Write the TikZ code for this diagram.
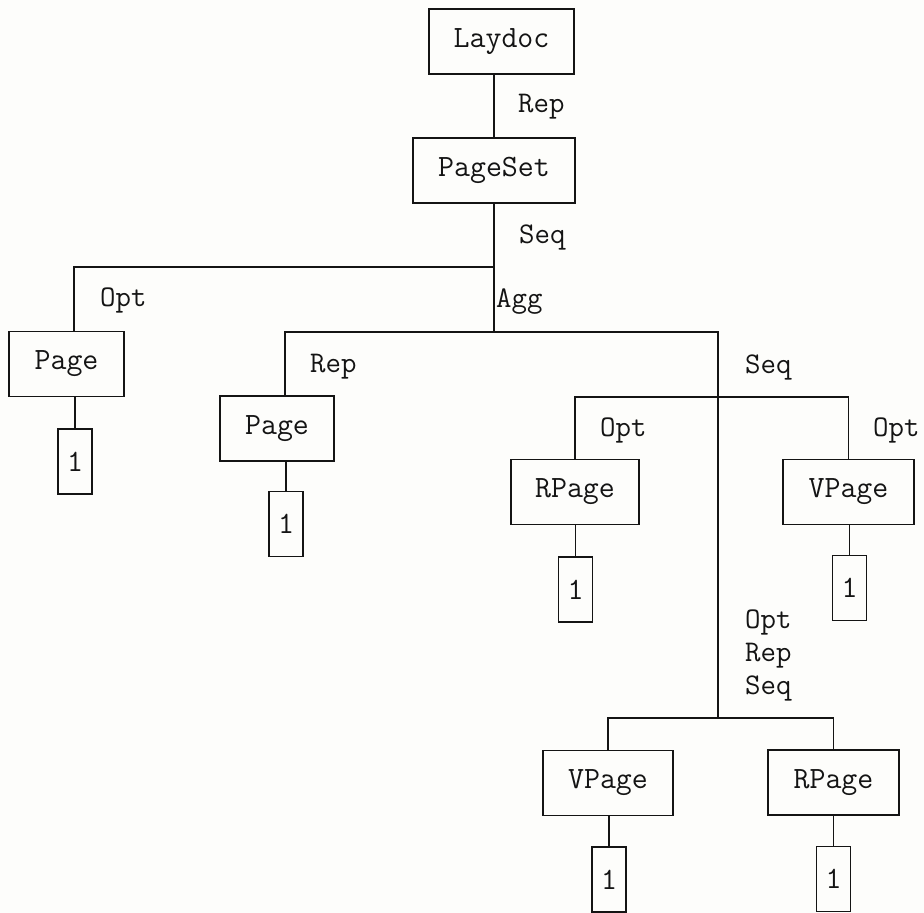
\documentclass[tikz,border=0pt]{standalone}
\usepackage{xcolor}
\newcommand{\elemheight}{65pt}
\newcommand{\leafwidth}{34pt}
\definecolor{paperbg}{HTML}{FDFDFB}
\definecolor{inkcolor}{HTML}{141414}
\tikzset{
  element/.style={draw=inkcolor, line width=1.8pt, minimum height=\elemheight,
    inner sep=0pt, text=inkcolor, font=\ttfamily\fontsize{31}{33}\selectfont},
  leafbox/.style={element, minimum width=\leafwidth},
  reltag/.style={anchor=west, inner sep=0pt, align=left, text=inkcolor,
    font=\ttfamily\fontsize{30}{33}\selectfont},
  link/.style={draw=inkcolor, line width=1.8pt},
}

\begin{document}
\begin{tikzpicture}[x=1pt, y=-1pt]
  % Page background
  \fill[paperbg] (0,0) rectangle (924,913);
  \useasboundingbox (0,0) rectangle (924,913);

  % Root and page set
  \node[element, minimum width=145pt] (laydoc) at (501.5,41.5) {Laydoc};
  \node[element, minimum width=162pt] (pageset) at (494,170.5) {PageSet};

  % Pages on the left
  \node[element, minimum width=115pt] (pageA) at (66.5,364) {Page};
  \node[leafbox] (leafA) at (75,461.5) {1};
  \node[element, minimum width=114pt] (pageB) at (277,428.5) {Page};
  \node[leafbox] (leafB) at (286,524) {1};

  % Optional pages under the Seq branch
  \node[element, minimum width=128pt] (rpageA) at (575,492) {RPage};
  \node[leafbox] (leafC) at (575.5,589.5) {1};
  \node[element, minimum width=131pt] (vpageA) at (848.5,492) {VPage};
  \node[leafbox] (leafD) at (849.5,588) {1};

  % Repeated pairs at the bottom
  \node[element, minimum width=130pt] (vpageB) at (608,783) {VPage};
  \node[leafbox] (leafE) at (609,879.5) {1};
  \node[element, minimum width=131pt] (rpageB) at (833.5,782.5) {RPage};
  \node[leafbox] (leafF) at (833.5,879) {1};

  % Branch points
  \coordinate (seqjoin) at (494,267);
  \coordinate (optleft) at (74,267);
  \coordinate (aggjoin) at (494,332);
  \coordinate (repleft) at (285,332);
  \coordinate (seqright) at (718,332);
  \coordinate (vsplit) at (718,397);
  \coordinate (bsplit) at (718,718);

  % Connectors
  \draw[link] (laydoc.south -| pageset.north) -- (pageset.north);
  \draw[link] (pageset.south) -- (aggjoin);
  \draw[link] (seqjoin) -- (optleft) -- (optleft |- pageA.north);
  \draw[link] (repleft |- pageB.north) -- (repleft) -- (seqright) -- (bsplit);
  \draw[link] (rpageA.north) |- (vsplit) -| (vpageA.north);
  \draw[link] (vpageB.north) |- (bsplit) -| (rpageB.north);
  \draw[link] (pageA.south -| leafA.north) -- (leafA.north);
  \draw[link] (pageB.south -| leafB.north) -- (leafB.north);
  \draw[link] (rpageA.south -| leafC.north) -- (leafC.north);
  \draw[link] (vpageA.south -| leafD.north) -- (leafD.north);
  \draw[link] (vpageB.south -| leafE.north) -- (leafE.north);
  \draw[link] (rpageB.south -| leafF.north) -- (leafF.north);

  % Relation tags
  \node[reltag] (tagrep) at (518,107) {Rep};
  \node[reltag] (tagseq) at (519,237) {Seq};
  \node[reltag] (tagopt) at (100,300) {Opt};
  \node[reltag] (tagagg) at (496,302) {Agg};
  \node[reltag] (tagrepb) at (310,367) {Rep};
  \node[reltag] (tagseqb) at (745,367) {Seq};
  \node[reltag] (tagoptc) at (600,430) {Opt};
  \node[reltag] (tagoptd) at (873,430) {Opt};
  \node[reltag] (tagmix) at (745,655.5) {Opt\\Rep\\Seq};
\end{tikzpicture}
\end{document}
